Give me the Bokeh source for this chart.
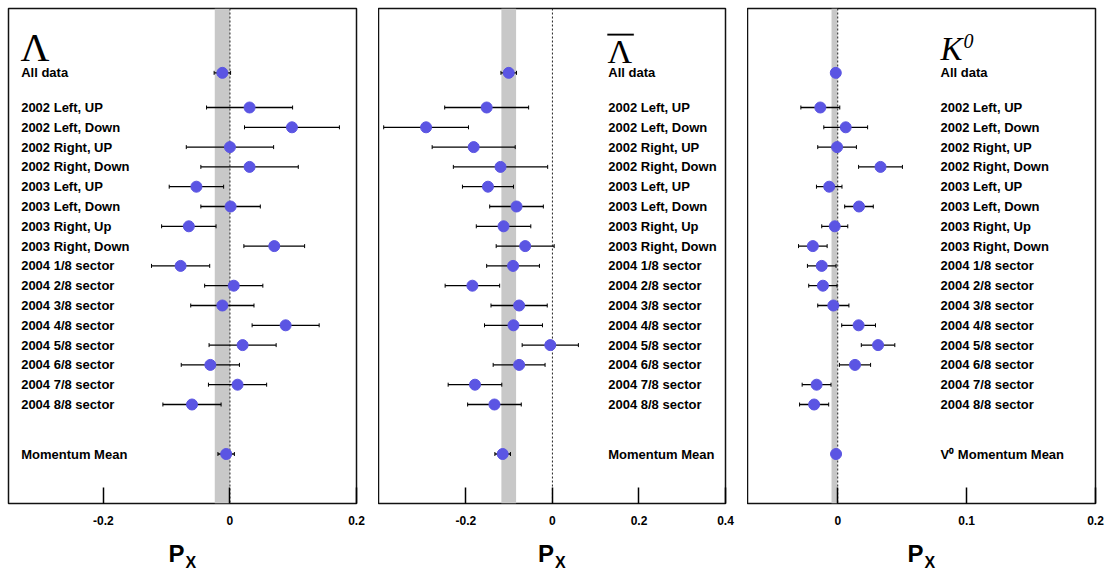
from bokeh.plotting import figure
from bokeh.layouts import row, column
from bokeh.models import ColumnDataSource, Whisker, TeeHead, BoxAnnotation, Span, Label, FixedTicker
from bokeh.core.properties import value
from bokeh.embed import file_html
from bokeh.resources import INLINE

# ---------------- data ----------------
categories = ["All data",
              "2002 Left, UP", "2002 Left, Down", "2002 Right, UP", "2002 Right, Down",
              "2003 Left, UP", "2003 Left, Down", "2003 Right, Up", "2003 Right, Down",
              "2004 1/8 sector", "2004 2/8 sector", "2004 3/8 sector", "2004 4/8 sector",
              "2004 5/8 sector", "2004 6/8 sector", "2004 7/8 sector", "2004 8/8 sector",
              "Momentum Mean"]
k0_categories = categories[:-1] + ["V\u2070 Momentum Mean"]
row_y = [21.75, 20, 19, 18, 17, 16, 15, 14, 13, 12, 11, 10, 9, 8, 7, 6, 5, 2.5]

lambda_px = [-0.012, 0.031, 0.098, 0.000, 0.031, -0.053, 0.001, -0.065, 0.070,
             -0.078, 0.006, -0.012, 0.088, 0.020, -0.031, 0.012, -0.060, -0.006]
lambda_err = [0.013, 0.068, 0.075, 0.069, 0.077, 0.043, 0.047, 0.043, 0.048,
              0.046, 0.046, 0.050, 0.053, 0.053, 0.046, 0.046, 0.046, 0.013]

lambdabar_px = [-0.101, -0.152, -0.292, -0.182, -0.120, -0.149, -0.083, -0.113, -0.063,
                -0.091, -0.185, -0.077, -0.090, -0.005, -0.077, -0.179, -0.134, -0.115]
lambdabar_err = [0.018, 0.097, 0.098, 0.096, 0.109, 0.059, 0.062, 0.063, 0.067,
                 0.061, 0.063, 0.065, 0.067, 0.065, 0.060, 0.062, 0.062, 0.018]

k0_px = [-0.0015, -0.0135, 0.0062, -0.0005, 0.0332, -0.0066, 0.0165, -0.0023, -0.0193,
         -0.0124, -0.0115, -0.0034, 0.0162, 0.0313, 0.0134, -0.0164, -0.0183, -0.0013]
k0_err = [0.0015, 0.0151, 0.0170, 0.0150, 0.0170, 0.0099, 0.0111, 0.0101, 0.0111,
          0.0111, 0.0110, 0.0121, 0.0131, 0.0130, 0.0121, 0.0112, 0.0113, 0.0015]

lambda_band = [-0.024, 0.0]
lambdabar_band = [-0.118, -0.084]
k0_band = [-0.0048, -0.0002]

lambda_range = [-0.35, 0.2]
lambdabar_range = [-0.402, 0.4]
k0_range = [-0.07, 0.2]

lambda_ticks = [-0.2, 0, 0.2]
lambdabar_ticks = [-0.2, 0, 0.2, 0.4]
k0_ticks = [0, 0.1, 0.2]
lambda_tick_labels = ["-0.2", "0", "0.2"]
lambdabar_tick_labels = ["-0.2", "0", "0.2", "0.4"]
k0_tick_labels = ["0", "0.1", "0.2"]

axis_title = ["P", "X"]

y_range = [0, 25]

POINT_COLOR = "#5b55e3"
SANS = "Liberation Sans"
SERIF = "Liberation Serif"


def make_panel(px, err, cats, band, xr, ticks, tick_labels, label_x, frame_w,
               border_l, border_r):
    p = figure(frame_width=frame_w, frame_height=495,
               x_range=tuple(xr), y_range=tuple(y_range),
               output_backend="svg", toolbar_location=None,
               min_border_left=border_l, min_border_right=border_r,
               min_border_top=8, min_border_bottom=30,
               y_axis_location=None)
    p.xgrid.visible = False
    p.ygrid.visible = False
    p.outline_line_color = "#111111"
    p.outline_line_width = 1.5
    p.background_fill_color = "white"
    p.border_fill_color = "white"

    ax = p.xaxis[0]
    ax.ticker = FixedTicker(ticks=ticks)
    ax.major_label_overrides = {t: l for t, l in zip(ticks, tick_labels)}
    ax.major_tick_in = 16
    ax.major_tick_out = 0
    ax.minor_tick_in = 0
    ax.minor_tick_out = 0
    ax.major_tick_line_color = "black"
    ax.major_tick_line_width = 1.5
    ax.axis_line_color = None
    ax.major_label_standoff = 12
    ax.major_label_text_font = SANS
    ax.major_label_text_font_style = "bold"
    ax.major_label_text_font_size = "12px"
    ax.major_label_text_color = "black"

    lo = [v - e for v, e in zip(px, err)]
    hi = [v + e for v, e in zip(px, err)]
    src = ColumnDataSource(dict(y=row_y, px=px, lo=lo, hi=hi, cat=cats))

    box = BoxAnnotation(left=band[0], right=band[1], fill_color="#c8c8c8", fill_alpha=1.0,
                        line_color=None, level="underlay")
    p.add_layout(box)
    zero = Span(location=0, dimension="height", line_color="#222222", line_width=1,
                line_dash="2 2", level="underlay")
    p.add_layout(zero)

    wh = Whisker(base="y", lower="lo", upper="hi", dimension="width", source=src,
                 line_color="black", line_width=1.3, level="underlay",
                 upper_head=TeeHead(size=4, line_color="black", line_width=1),
                 lower_head=TeeHead(size=4, line_color="black", line_width=1))
    p.add_layout(wh)

    p.scatter(x="px", y="y", source=src, size=11, fill_color=POINT_COLOR,
              line_color=POINT_COLOR)

    p.text(x=label_x, y="y", text="cat", source=src,
           text_font=value(SANS), text_font_style="bold", text_font_size="13px",
           text_baseline="middle", text_align="left", text_color="black")
    return p


def make_axis_title(xr, frame_w, border_l, border_r):
    q = figure(frame_width=frame_w, frame_height=39,
               x_range=tuple(xr), y_range=(0, 39),
               output_backend="svg", toolbar_location=None,
               min_border_left=border_l, min_border_right=border_r,
               min_border_top=0, min_border_bottom=0,
               x_axis_location=None, y_axis_location=None)
    q.xgrid.visible = False
    q.ygrid.visible = False
    q.outline_line_color = None
    q.background_fill_color = "white"
    q.border_fill_color = "white"
    mid = (xr[0] + xr[1]) / 2.0
    q.text(x=[mid], y=[19], text=[axis_title[0]], x_offset=-14,
           text_font=value(SANS), text_font_style="bold", text_font_size="24px",
           text_baseline="alphabetic", text_align="left", text_color="black")
    q.text(x=[mid], y=[10], text=[axis_title[1]], x_offset=3,
           text_font=value(SANS), text_font_style="bold", text_font_size="16px",
           text_baseline="alphabetic", text_align="left", text_color="black")
    return q


p1 = make_panel(lambda_px, lambda_err, categories, lambda_band, lambda_range,
                lambda_ticks, lambda_tick_labels, -0.330, 348, 8, 22)
p1.add_layout(Label(x=-0.331, y=23.03, text="\u039b", text_font=SERIF,
                    text_font_size="40px", text_baseline="alphabetic", text_color="black"))

p2 = make_panel(lambdabar_px, lambdabar_err, categories, lambdabar_band, lambdabar_range,
                lambdabar_ticks, lambdabar_tick_labels, 0.129, 347, 0, 22)
p2.add_layout(Label(x=0.127, y=22.85, text="\u039b", text_font=SERIF,
                    text_font_size="34px", text_baseline="alphabetic", text_color="black"))
p2.add_layout(BoxAnnotation(left=0.127, right=0.188, bottom=23.64, top=23.72,
                            fill_color="black", fill_alpha=1.0, line_color="black",
                            line_width=0.5))

p3 = make_panel(k0_px, k0_err, k0_categories, k0_band, k0_range,
                k0_ticks, k0_tick_labels, 0.0798, 348, 0, 12)
p3.add_layout(Label(x=0.0798, y=22.95, text="K", text_font=SERIF, text_font_style="italic",
                    text_font_size="33px", text_baseline="alphabetic", text_color="black"))
p3.add_layout(Label(x=0.0975, y=23.38, text="0", text_font=SERIF, text_font_style="italic",
                    text_font_size="20px", text_baseline="alphabetic", text_color="black"))

q1 = make_axis_title(lambda_range, 348, 8, 22)
q2 = make_axis_title(lambdabar_range, 347, 0, 22)
q3 = make_axis_title(k0_range, 348, 0, 12)

layout = column(row(p1, p2, p3, spacing=0), row(q1, q2, q3, spacing=0), spacing=0)
open("out.html", "w").write(file_html(layout, INLINE))
